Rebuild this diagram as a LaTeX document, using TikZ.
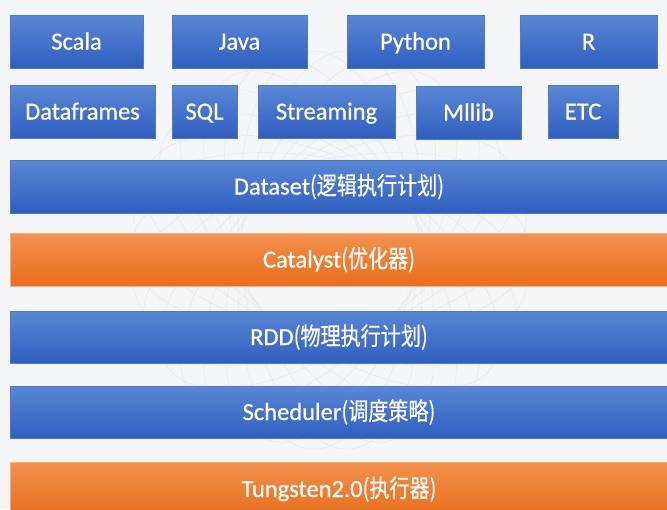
\documentclass[tikz,border=0pt]{standalone}
\usepackage{fontspec}
\setmainfont{Carlito}[FakeBold=0.5]
\newfontfamily\zhfont[FakeStretch=0.82, FakeBold=0.4]{Noto Sans CJK SC}
\newcommand{\zh}[1]{{\zhfont #1}}
\definecolor{pagebg}{HTML}{F4F5F7}
\definecolor{bluetop}{HTML}{5B87D6}
\definecolor{bluebot}{HTML}{2F5EBF}
\definecolor{blueedge}{HTML}{4F79C9}
\definecolor{orangetop}{HTML}{F2914E}
\definecolor{orangebot}{HTML}{E86E1C}
\definecolor{orangeedge}{HTML}{F4B183}
\tikzset{
  layerbox/.style={anchor=north west, inner sep=0pt, outer sep=0pt,
    text=white, font=\fontsize{24.5}{28}\selectfont, line width=0.8pt,
    text height=16pt, text depth=0pt},
  bluebox/.style={layerbox, draw=blueedge, top color=bluetop, bottom color=bluebot},
  orangebox/.style={layerbox, draw=orangeedge, top color=orangetop, bottom color=orangebot},
}
\begin{document}
\begin{tikzpicture}[x=1pt, y=-1pt]
  \useasboundingbox (0,0) rectangle (667,509);
  \clip (0,0) rectangle (667,509);
  \fill[pagebg] (0,0) rectangle (667,509);
  % faint decorative rings in the background
  \begin{scope}[draw=blue!25!gray!20, line width=0.4pt, opacity=0.6]
    \foreach \a in {0,12,...,168} {
      \draw[rotate around={\a:(330,250)}] (330,250) ellipse (200 and 90);
    }
  \end{scope}
  % language row
  \node[bluebox, minimum width=133, minimum height=53] (scala)  at (10,15)  {Scala};
  \node[bluebox, minimum width=135, minimum height=53] (java)   at (172,15) {Java};
  \node[bluebox, minimum width=137, minimum height=53] (python) at (347,15) {Python};
  \node[bluebox, minimum width=137, minimum height=53] (rlang)  at (520,15) {R};
  % library row
  \node[bluebox, minimum width=145, minimum height=53] (dataframes) at (10,85)  {Dataframes};
  \node[bluebox, minimum width=65,  minimum height=53] (sql)        at (172,85) {SQL};
  \node[bluebox, minimum width=137, minimum height=53] (streaming)  at (258,85) {Streaming};
  \node[bluebox, minimum width=105, minimum height=53] (mllib)      at (416,86) {Mllib};
  \node[bluebox, minimum width=70,  minimum height=53] (etc)        at (548,85) {ETC};
  % full-width layers
  \node[bluebox,   minimum width=658, minimum height=53] (dataset)   at (10,160) {Dataset\zh{(逻辑执行计划)}};
  \node[orangebox, minimum width=658, minimum height=53] (catalyst)  at (10,233) {Catalyst\zh{(优化器)}};
  \node[bluebox,   minimum width=658, minimum height=52] (rdd)       at (10,311) {RDD\zh{(物理执行计划)}};
  \node[bluebox,   minimum width=658, minimum height=52] (scheduler) at (10,386) {Scheduler\zh{(调度策略)}};
  \node[orangebox, minimum width=658, minimum height=54] (tungsten)  at (10,462) {Tungsten2.0\zh{(执行器)}};
\end{tikzpicture}
\end{document}
